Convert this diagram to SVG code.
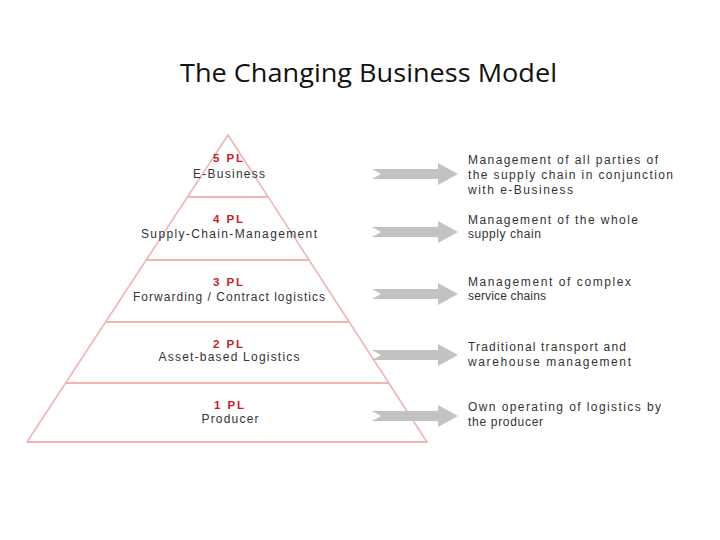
<svg xmlns="http://www.w3.org/2000/svg" width="720" height="540" viewBox="0 0 720 540">
<style>
.title{font-family:"Open Sans","Liberation Sans",sans-serif;font-size:26px;fill:#111}
.pl{font-family:"Liberation Sans",Arial,sans-serif;font-size:11.5px;font-weight:bold;fill:#c8202a;text-anchor:middle}
.lbl{font-family:"Liberation Sans",Arial,sans-serif;font-size:12px;fill:#333;text-anchor:middle}
.desc{font-family:"Liberation Sans",Arial,sans-serif;font-size:12px;fill:#333}
.edge{stroke:#efb4b4;stroke-width:1.6;fill:none}
.div{stroke:#efb4b4;stroke-width:2;fill:none}
.arrow{fill:#c2c2c2}
</style>
<defs>
<path id="arr" d="M372,-5 L438,-5 L438,-11 L458,0 L438,11 L438,5 L372,5 L381,0 Z"/>
</defs>
<rect width="720" height="540" fill="#ffffff"/>
<text class="title" x="180" y="82" textLength="377" lengthAdjust="spacingAndGlyphs">The Changing Business Model</text>

<g id="pyramid">
<path class="edge" d="M27,442 L228,135 L427,442 Z"/>
</g>
<g id="level5">
<line class="div" x1="187" y1="197" x2="268" y2="197"/>
<text class="pl" x="228" y="162" textLength="30" lengthAdjust="spacing">5 PL</text>
<text class="lbl" x="229" y="178" textLength="72" lengthAdjust="spacing">E-Business</text>
</g>
<g id="level4">
<line class="div" x1="146" y1="260" x2="309" y2="260"/>
<text class="pl" x="228" y="223" textLength="30" lengthAdjust="spacing">4 PL</text>
<text class="lbl" x="229" y="238" textLength="176" lengthAdjust="spacing">Supply-Chain-Management</text>
</g>
<g id="level3">
<line class="div" x1="105" y1="322" x2="349" y2="322"/>
<text class="pl" x="228" y="286" textLength="30" lengthAdjust="spacing">3 PL</text>
<text class="lbl" x="229" y="301" textLength="192" lengthAdjust="spacing">Forwarding / Contract logistics</text>
</g>
<g id="level2">
<line class="div" x1="66" y1="383" x2="389" y2="383"/>
<text class="pl" x="228" y="348" textLength="30" lengthAdjust="spacing">2 PL</text>
<text class="lbl" x="229" y="361" textLength="141" lengthAdjust="spacing">Asset-based Logistics</text>
</g>
<g id="level1">
<line class="div" x1="27" y1="442" x2="427" y2="442"/>
<text class="pl" x="229" y="409" textLength="30" lengthAdjust="spacing">1 PL</text>
<text class="lbl" x="230" y="423" textLength="57" lengthAdjust="spacing">Producer</text>
</g>

<g id="connectors">
<use href="#arr" class="arrow" transform="translate(0,174)"/>
<use href="#arr" class="arrow" transform="translate(0,232)"/>
<use href="#arr" class="arrow" transform="translate(0,294)"/>
<use href="#arr" class="arrow" transform="translate(0,355)"/>
<use href="#arr" class="arrow" transform="translate(0,416)"/>
</g>

<g id="desc5">
<text class="desc" x="468" y="164" textLength="190" lengthAdjust="spacing">Management of all parties of</text>
<text class="desc" x="468" y="179" textLength="205" lengthAdjust="spacing">the supply chain in conjunction</text>
<text class="desc" x="468" y="194" textLength="105" lengthAdjust="spacing">with e-Business</text>
</g>
<g id="desc4">
<text class="desc" x="468" y="224" textLength="170" lengthAdjust="spacing">Management of the whole</text>
<text class="desc" x="468" y="238" textLength="73" lengthAdjust="spacing">supply chain</text>
</g>
<g id="desc3">
<text class="desc" x="468" y="286" textLength="163" lengthAdjust="spacing">Management of complex</text>
<text class="desc" x="468" y="300" textLength="78" lengthAdjust="spacing">service chains</text>
</g>
<g id="desc2">
<text class="desc" x="468" y="351" textLength="158" lengthAdjust="spacing">Traditional transport and</text>
<text class="desc" x="468" y="366" textLength="163" lengthAdjust="spacing">warehouse management</text>
</g>
<g id="desc1">
<text class="desc" x="468" y="411" textLength="193" lengthAdjust="spacing">Own operating of logistics by</text>
<text class="desc" x="468" y="426" textLength="75" lengthAdjust="spacing">the producer</text>
</g>
</svg>
